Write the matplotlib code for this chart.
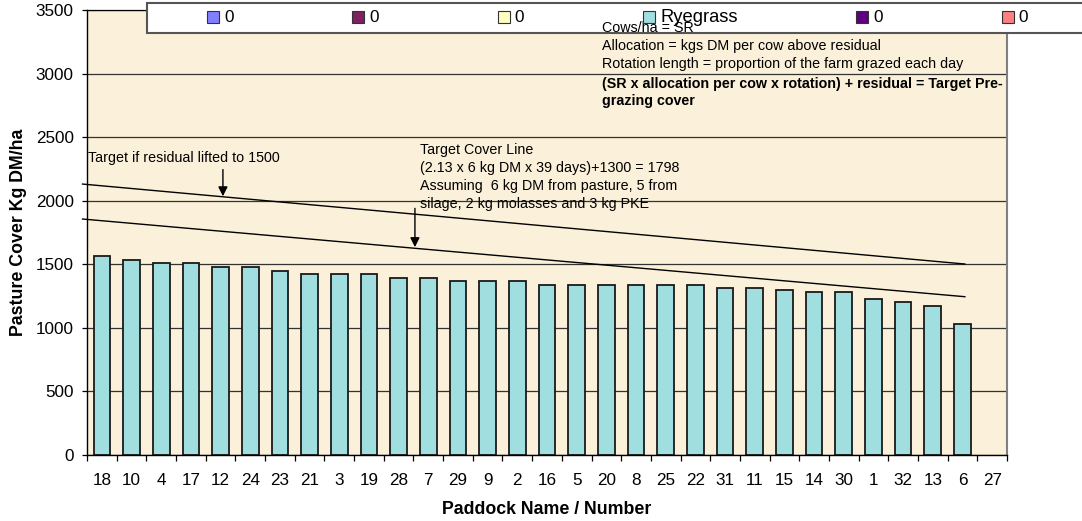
import numpy as np
import matplotlib.pyplot as plt
from matplotlib.patches import Patch, Rectangle

plt.rcParams['font.family'] = ['Liberation Sans', 'DejaVu Sans']

# paddocks in grazing order and their pasture cover (kg DM/ha)
paddocks = ['18', '10', '4', '17', '12', '24', '23', '21', '3', '19', '28', '7', '29', '9', '2',
            '16', '5', '20', '8', '25', '22', '31', '11', '15', '14', '30', '1', '32', '13', '6', '27']
cover = [1565, 1534, 1508, 1508, 1481, 1481, 1450, 1424, 1424, 1424, 1395, 1395, 1366, 1366, 1366,
         1339, 1339, 1339, 1339, 1339, 1339, 1311, 1311, 1298, 1282, 1282, 1227, 1201, 1172, 1033, np.nan]

# target lines (start, end) in kg DM/ha
target_cover = [1856, 1245]
target_1500 = [2131, 1502]

# legend series of the original workbook
series_names = ['0', '0', '0', 'Ryegrass', '0', '0']
series_colors = ['#8080FF', '#802060', '#FFFFC0', '#A0DEE0', '#600080', '#FF8080']

W, H = 1082, 521


def px(x, y):
    '''pixel position -> figure fraction'''
    return x / W, 1 - y / H


fig = plt.figure(figsize=(W / 100, H / 100), dpi=100)
ax = fig.add_axes([87 / W, (H - 455) / H, 920 / W, 445 / H])
ax.set_facecolor('#FBF0D9')

x = np.arange(len(paddocks))
vals = np.array(cover, dtype=float)
has = ~np.isnan(vals)

ax.set_axisbelow(True)
ax.yaxis.grid(True, color='#333333', lw=0.9)
ax.bar(x[has], vals[has], width=0.56, color='#A0DEE0', edgecolor='#1a1a1a', lw=1.3, zorder=2)

ax.set_xlim(-0.5, len(paddocks) - 0.5)
ax.set_ylim(0, 3500)
ax.set_yticks(range(0, 3501, 500))
ax.set_xticks(x)
ax.set_xticklabels(paddocks)
ax.set_xticks(np.arange(-0.5, len(paddocks)), minor=True)
ax.tick_params(axis='x', which='major', length=0, pad=13, labelsize=12.3)
ax.tick_params(axis='x', which='minor', length=4.5, width=0.9)
ax.tick_params(axis='y', length=3.6, width=0.9, pad=6, labelsize=12.3)

for s in ['left', 'bottom']:
    ax.spines[s].set_linewidth(1.0)
ax.spines['top'].set_linewidth(0.9)
ax.spines['right'].set_color('#808080')
ax.spines['right'].set_linewidth(1.5)

# target lines, from the left edge to the last grazed paddock
line_x = [-0.65, 29.08]
ax.plot(line_x, target_1500, color='black', lw=1, clip_on=False, zorder=3)
ax.plot(line_x, target_cover, color='black', lw=1, clip_on=False, zorder=3)

arrow = dict(arrowstyle='-|>', color='black', lw=1, mutation_scale=14, shrinkA=0, shrinkB=0)
ax.annotate('', xy=(4.08, 2035), xytext=(4.08, 2245), arrowprops=arrow)
ax.annotate('', xy=(10.55, 1635), xytext=(10.55, 1940), arrowprops=arrow)

ax.set_xlabel('Paddock Name / Number', fontsize=12.8, fontweight='bold')
ax.xaxis.set_label_coords(0.5, -0.103)
ax.set_ylabel('Pasture Cover Kg DM/ha', fontsize=12.8, fontweight='bold', va='center')
ax.yaxis.set_label_coords(-68 / 920, 0.5)

# legend box
fig.add_artist(Rectangle(px(147, 33), (1095 - 147) / W, 30 / H, transform=fig.transFigure,
                         facecolor='white', edgecolor='#555555', lw=1.5, zorder=1))
handles = [Patch(facecolor=c, edgecolor='#333333', lw=0.8) for c in series_colors]
leg = fig.legend(handles, series_names, ncol=6, loc='center left', bbox_to_anchor=px(207, 18),
                 frameon=False, fontsize=12.3, handlelength=0.7, handleheight=0.7,
                 handletextpad=0.3, columnspacing=6.95, borderpad=0, borderaxespad=0)
leg.get_texts()[3].set_fontsize(13.2)
leg.set_zorder(5)

# notes
fs = 10.3
fig.text(*px(602, 28), 'Cows/ha = SR', fontsize=fs, va='center')
fig.text(*px(602, 46), 'Allocation = kgs DM per cow above residual', fontsize=fs, va='center')
fig.text(*px(602, 64), 'Rotation length = proportion of the farm grazed each day', fontsize=fs, va='center')
fig.text(*px(602, 84), '(SR x allocation per cow x rotation) + residual = Target Pre-', fontsize=fs,
         va='center', fontweight='bold')
fig.text(*px(602, 101), 'grazing cover', fontsize=fs, va='center', fontweight='bold')

fig.text(*px(88, 158), 'Target if residual lifted to 1500', fontsize=fs, va='center')
fig.text(*px(420, 150), 'Target Cover Line', fontsize=fs, va='center')
fig.text(*px(420, 168), '(2.13 x 6 kg DM x 39 days)+1300 = 1798', fontsize=fs, va='center')
fig.text(*px(420, 186), 'Assuming  6 kg DM from pasture, 5 from', fontsize=fs, va='center')
fig.text(*px(420, 204), 'silage, 2 kg molasses and 3 kg PKE', fontsize=fs, va='center')

fig.savefig('out.png', dpi=100)
